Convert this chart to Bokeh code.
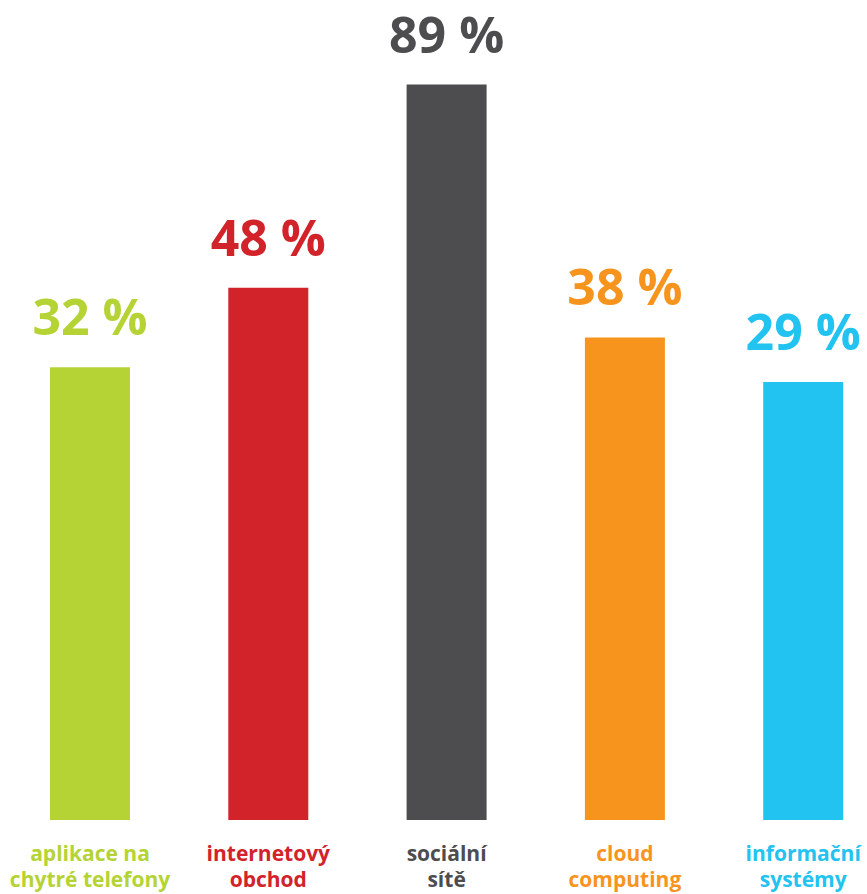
from bokeh.plotting import figure
from bokeh.models import ColumnDataSource, Range1d
from bokeh.embed import file_html
from bokeh.resources import INLINE
from bokeh.core.properties import value

# ---- data ----
categories = ["aplikace na\nchytré telefony", "internetový\nobchod", "sociální\nsítě",
              "cloud\ncomputing", "informační\nsystémy"]
percent_labels = [32, 48, 89, 38, 29]
# drawn bar heights (infographic, not proportional)
bar_heights = [54.8, 64.4, 89.0, 58.4, 53.0]
colors = ["#B5D334", "#D2232A", "#4D4D4F", "#F7941E", "#22C3F0"]

W, H = 867, 894
PX_PER_UNIT = 8.264          # screen px per height unit
BASE_PX = 819.5              # bar baseline from top of figure
BAR_SPACING_PX = 178.3
FIRST_CENTER_PX = 89.5
BAR_WIDTH_PX = 80
LABEL_GAP_PX = 51.0
CAT_FONT = 21
BASELINE_FIX = 0.36 * CAT_FONT
LINE1_PX = 860.0 - BASELINE_FIX
LINE2_PX = 886.0 - BASELINE_FIX

x_start = -FIRST_CENTER_PX / BAR_SPACING_PX
x_end = (W - FIRST_CENTER_PX) / BAR_SPACING_PX
y_start = (BASE_PX - H) / PX_PER_UNIT
y_end = BASE_PX / PX_PER_UNIT

p = figure(width=W, height=H, output_backend="svg", toolbar_location=None,
           x_range=Range1d(x_start, x_end), y_range=Range1d(y_start, y_end),
           min_border=0, min_border_left=0, min_border_right=0,
           min_border_top=0, min_border_bottom=0)
p.axis.visible = False
p.grid.visible = False
p.outline_line_color = None
p.background_fill_color = "white"
p.border_fill_color = "white"

xs = list(range(len(categories)))
line1 = [c.split("\n")[0] for c in categories]
line2 = [c.split("\n")[1] for c in categories]
src = ColumnDataSource(dict(
    x=xs, top=bar_heights, color=colors,
    label=[f"{v} %" for v in percent_labels],
    label_y=[h + LABEL_GAP_PX / PX_PER_UNIT for h in bar_heights],
    l1=line1, l2=line2,
    l1_y=[(BASE_PX - LINE1_PX) / PX_PER_UNIT] * len(xs),
    l2_y=[(BASE_PX - LINE2_PX) / PX_PER_UNIT] * len(xs),
))

p.vbar(x="x", top="top", bottom=0, width=BAR_WIDTH_PX / BAR_SPACING_PX,
       fill_color="color", line_color=None, source=src)

p.text(x="x", y="label_y", text="label", text_color="color",
       text_font=value("Open Sans"), text_font_style="bold",
       text_font_size="50px", text_align="center", text_baseline="alphabetic",
       source=src)

for col, ycol in (("l1", "l1_y"), ("l2", "l2_y")):
    p.text(x="x", y=ycol, text=col, text_color="color",
           text_font=value("Open Sans"), text_font_style="bold",
           text_font_size=f"{CAT_FONT}px", text_align="center",
           text_baseline="alphabetic", source=src)

open("out.html", "w").write(file_html(p, INLINE))
